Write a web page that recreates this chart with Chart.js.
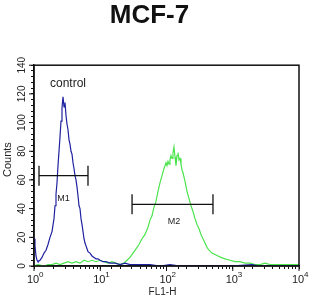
<!DOCTYPE html>
<html>
<head>
<meta charset="utf-8">
<script src="https://cdn.jsdelivr.net/npm/chart.js@4"></script>
<style>
  html, body { margin: 0; padding: 0; background: #fff; }
  #wrap { width: 312px; height: 301px; }
</style>
</head>
<body>
<div id="wrap"><canvas id="histo"></canvas></div>
<script>
// control (blue) histogram, FL1-H intensity vs counts
var blueX = [1.0, 1.035, 1.072, 1.11, 1.149, 1.232, 1.32, 1.416, 1.518, 1.627, 1.744, 1.87, 2.004, 2.075, 2.148, 2.225,
  2.303, 2.385, 2.469, 2.556, 2.646, 2.74, 2.838, 2.937, 3.041, 3.148, 3.261, 3.376, 3.495, 3.619, 3.747, 3.879,
  4.017, 4.159, 4.305, 4.459, 4.615, 4.78, 4.948, 5.124, 5.304, 5.494, 5.686, 5.889, 6.095, 6.314, 6.534, 7.0,
  7.508, 8.048, 8.627, 9.249, 9.913, 11.0, 12.21, 14.04, 16.7, 19.87, 23.63, 28.12, 39.81, 56.36, 79.76, 112.9,
  159.9, 320, 909, 1953, 2578, 10000];
var blueCounts = [19, 14, 7, 4, 3, 4, 6, 9, 11, 15, 20, 24, 33, 42, 50, 58,
  70, 80, 90, 101, 110, 118, 111, 114, 105, 99, 95, 88, 85, 80, 78, 72,
  68, 63, 60, 55, 49, 42, 40, 33, 29, 24, 19, 16, 14, 12, 10, 9,
  7, 6, 5, 5, 4, 3, 3, 2, 2, 1, 2, 1, 1, 1, 0, 1,
  0, 0, 0, 1, 0, 0];

// MCF-7 stained (green) histogram
var greenX = [1.0, 1.149, 1.416, 1.627, 1.87, 2.148, 2.469, 2.837, 3.261, 3.747, 4.305, 4.948, 5.686, 6.534, 7.508, 8.627,
  9.913, 11.39, 13.09, 15.04, 17.29, 19.87, 22.83, 25.33, 28.12, 31.21, 34.64, 38.45, 42.68, 47.37, 52.58, 56.36,
  60.41, 64.75, 69.42, 74.41, 79.76, 85.51, 91.66, 98.27, 101.7, 105.4, 109.1, 112.9, 116.9, 121.1, 125.3, 129.8,
  134.4, 139.1, 144.1, 149.1, 154.4, 159.9, 165.5, 171.4, 177.5, 190.2, 203.9, 218.6, 234.3, 251.2, 269.3, 288.7,
  309.5, 331.7, 355.6, 381.2, 408.6, 438.1, 486.3, 539.7, 599.1, 664.9, 763.8, 908.9, 1081, 1287, 1530, 1821,
  2167, 2578, 3068, 3650, 5167, 7314, 10000];
var greenCounts = [0, 1, 0, 1, 1, 2, 1, 2, 3, 2, 3, 2, 4, 3, 4, 3,
  4, 3, 2, 3, 2, 1, 2, 4, 6, 9, 12, 15, 19, 22, 27, 32,
  35, 41, 45, 52, 58, 63, 68, 72, 70, 73, 71, 74, 77, 75, 79, 83,
  76, 70, 77, 79, 74, 75, 71, 67, 65, 59, 52, 47, 42, 38, 33, 29,
  26, 22, 19, 16, 13, 11, 9, 8, 7, 6, 5, 4, 3, 3, 2, 2,
  1, 1, 2, 1, 1, 1, 1];

// gates
var m1Range = [1.19, 6.53], m1Level = 63;
var m2Range = [30.2, 503], m2Level = 43;

var yTickLabels = [0, 20, 40, 60, 80, 100, 120, 140];
var xDecades = [1, 10, 100, 1000, 10000];

function toPoints(xs, ys) {
  return xs.map(function (x, i) { return { x: x, y: ys[i] }; });
}
function gate(range, level) {
  return [{ x: range[0], y: level }, { x: range[1], y: level }];
}

var gateStyle = {
  borderColor: '#111', borderWidth: 1.3, showLine: true,
  pointStyle: 'line', rotation: 90, pointRadius: 10, pointBorderWidth: 1.3,
  pointBorderColor: '#111', pointHoverRadius: 10, fill: false
};

var overlay = {
  id: 'overlay',
  afterDraw: function (chart) {
    var ctx = chart.ctx, a = chart.chartArea;
    var xs = chart.scales.x, ys = chart.scales.y;
    ctx.save();
    ctx.strokeStyle = '#111';
    ctx.lineWidth = 1.5;
    ctx.strokeRect(a.left, a.top, a.right - a.left, a.bottom - a.top);

    // longer major ticks
    ctx.lineWidth = 1;
    ctx.beginPath();
    yTickLabels.forEach(function (v) {
      var y = ys.getPixelForValue(v);
      ctx.moveTo(a.left - 5, y); ctx.lineTo(a.left, y);
    });
    xDecades.forEach(function (v) {
      var x = xs.getPixelForValue(v);
      ctx.moveTo(x, a.bottom); ctx.lineTo(x, a.bottom + 5);
    });
    ctx.stroke();

    ctx.fillStyle = '#222';
    // y tick labels, rotated
    ctx.font = '10px "Liberation Sans", Arial, sans-serif';
    ctx.textAlign = 'center';
    ctx.textBaseline = 'middle';
    yTickLabels.forEach(function (v) {
      ctx.save();
      ctx.translate(a.left - 12, ys.getPixelForValue(v));
      ctx.rotate(-Math.PI / 2);
      ctx.fillText(String(v), 0, 0);
      ctx.restore();
    });
    // x tick labels 10^n
    xDecades.forEach(function (v, i) {
      var x = xs.getPixelForValue(v);
      ctx.font = '11px "Liberation Sans", Arial, sans-serif';
      ctx.textAlign = 'center';
      ctx.fillText('10', x - 1, a.bottom + 14);
      ctx.font = '8px "Liberation Sans", Arial, sans-serif';
      ctx.textAlign = 'left';
      ctx.fillText(String(i), x + 5, a.bottom + 9);
    });
    // axis titles
    ctx.font = '10px "Liberation Sans", Arial, sans-serif';
    ctx.textAlign = 'center';
    ctx.fillText('FL1-H', (a.left + a.right) / 2 - 4, a.bottom + 26);
    ctx.save();
    ctx.translate(8, (a.top + a.bottom) / 2 - 6);
    ctx.rotate(-Math.PI / 2);
    ctx.font = '11px "Liberation Sans", Arial, sans-serif';
    ctx.fillText('Counts', 0, 0);
    ctx.restore();

    // annotations
    ctx.font = '12px "Liberation Sans", Arial, sans-serif';
    ctx.fillText('control', xs.getPixelForValue(3.26), ys.getPixelForValue(127));
    ctx.font = '9px "Liberation Sans Narrow", "Liberation Sans", Arial, sans-serif';
    ctx.fillText('M1', xs.getPixelForValue(2.8), ys.getPixelForValue(47));
    ctx.fillText('M2', xs.getPixelForValue(130), ys.getPixelForValue(31));
    ctx.restore();
  }
};

var config = {
  type: 'scatter',
  data: {
    datasets: [
      Object.assign({ label: 'M1', data: gate(m1Range, m1Level) }, gateStyle),
      Object.assign({ label: 'M2', data: gate(m2Range, m2Level) }, gateStyle),
      {
        label: 'control', data: toPoints(blueX, blueCounts), showLine: true,
        borderColor: '#1f22a0', borderWidth: 1.2, pointRadius: 0, tension: 0
      },
      {
        label: 'MCF-7', data: toPoints(greenX, greenCounts), showLine: true,
        borderColor: '#4ce44c', borderWidth: 1.2, pointRadius: 0, tension: 0
      }
    ]
  },
  options: {
    responsive: true,
    maintainAspectRatio: false,
    animation: false,
    layout: { padding: { left: 0, right: 13, top: 0, bottom: 0 } },
    plugins: {
      legend: { display: false },
      tooltip: { enabled: false },
      title: {
        display: true, text: 'MCF-7', color: '#111',
        font: { family: '"Liberation Sans", Arial, sans-serif', size: 26, weight: 'bold' },
        padding: { top: 0, bottom: 34 }
      }
    },
    scales: {
      x: {
        type: 'logarithmic', min: 1, max: 10000,
        grid: { drawOnChartArea: false, drawTicks: true, tickLength: 3, color: '#111' },
        border: { display: true, color: '#111', width: 1.5 },
        ticks: { display: false },
        afterFit: function (s) { s.height = 35; }
      },
      y: {
        min: 0, max: 140,
        grid: { drawOnChartArea: false, drawTicks: true, tickLength: 3, color: '#111' },
        border: { display: true, color: '#111', width: 1.5 },
        ticks: { display: false, stepSize: 4 },
        afterFit: function (s) { s.width = 34; }
      }
    }
  },
  plugins: [overlay]
};

var canvas = document.getElementById('histo');
var histo = new Chart(canvas, config);
</script>
</body>
</html>
